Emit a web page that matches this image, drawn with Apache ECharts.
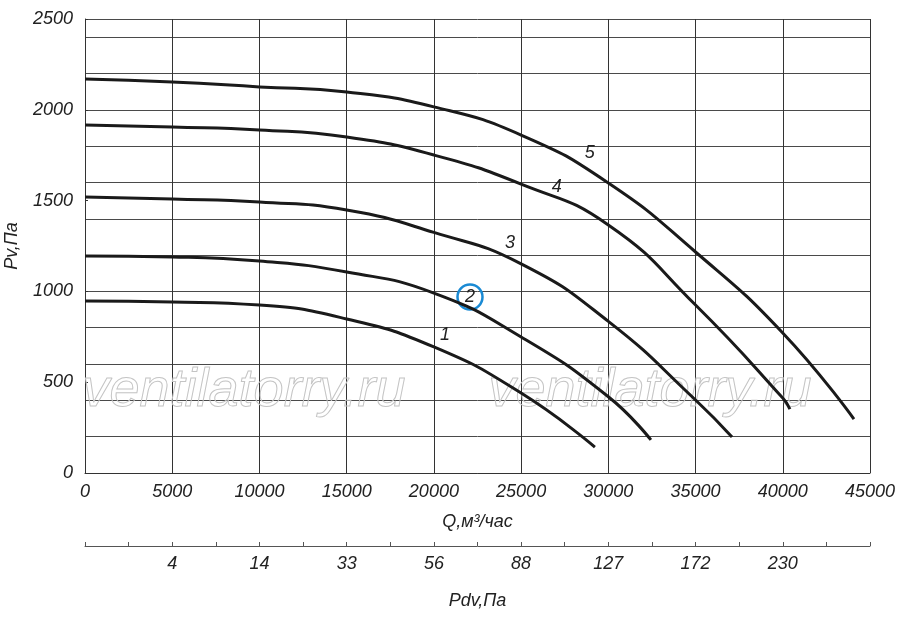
<!DOCTYPE html>
<html>
<head>
<meta charset="utf-8">
<script src="https://cdn.jsdelivr.net/npm/echarts@6/dist/echarts.min.js"></script>
<style>
html,body{margin:0;padding:0;background:#fff;}
#chart{width:900px;height:620px;}
</style>
</head>
<body>
<div id="chart"></div>
<script>
// Q, м3/час -> Pv, Па  (кривые 1..5)
var curve1 = [[0,947],[5000,942],[10000,925],[15000,848],[20000,694],[25000,440],[29230,143]];
var curve2 = [[0,1195],[5000,1190],[10000,1167],[15000,1107],[20000,991],[25000,749],[30000,420],[32440,182]];
var curve3 = [[0,1520],[5000,1509],[10000,1492],[15000,1448],[20000,1325],[25000,1152],[30000,835],[35000,402],[37090,198]];
var curve4 = [[0,1916],[5000,1905],[10000,1889],[15000,1850],[20000,1751],[25000,1591],[30000,1366],[35000,925],[40000,413],[40410,352]];
var curve5 = [[0,2170],[5000,2153],[10000,2126],[15000,2098],[20000,2016],[25000,1861],[30000,1597],[35000,1217],[40000,771],[44080,297]];
var curveNames = ['1','2','3','4','5'];
// где стоят номера кривых
var labelPos = [[20640,760],[22070,969],[24360,1267],[27050,1575],[28940,1762]];
// динамическое давление Pdv под шкалой Q
var pdvQ = [5000,10000,15000,20000,25000,30000,35000,40000];
var pdvLabels = ['4','14','33','56','88','127','172','230'];

var font = '"Liberation Sans", Arial, sans-serif';
var txtStyle = {color:'#222', fontSize:18, fontStyle:'italic', fontFamily:font};

var chart = echarts.init(document.getElementById('chart'));

function plain(v){ return String(v); }

function curveSeries(data, idx){
    var mp = {
        coord: labelPos[idx],
        symbol: 'circle',
        symbolSize: 20,
        itemStyle: {color:'rgba(255,255,255,0)'},
        label: {show:true, formatter:curveNames[idx], position:'inside', color:'#222', fontSize:18, fontStyle:'italic', fontFamily:font}
    };
    if(idx == 1){
        mp.symbolSize = 25;
        mp.itemStyle = {color:'rgba(255,255,255,0)', borderColor:'#1a8ad4', borderWidth:2.5};
    }
    return {
        type:'line',
        xAxisIndex:0,
        yAxisIndex:0,
        data:data,
        smooth:0.5,
        showSymbol:false,
        silent:true,
        z:5,
        lineStyle:{color:'#1a1a1a', width:3},
        markPoint:{silent:true, data:[mp]}
    };
}

var option = {
    animation:false,
    backgroundColor:'#fff',
    grid:[
        {left:85, right:30, top:19, bottom:147, containLabel:false, outerBoundsMode:'none'},
        {left:85, right:30, top:545, height:1, containLabel:false, outerBoundsMode:'none'}
    ],
    xAxis:[{
        type:'value', gridIndex:0, min:0, max:45000, interval:5000,
        name:'Q,м³/час', nameLocation:'middle', nameGap:40,
        nameTextStyle:txtStyle,
        axisLine:{show:true, lineStyle:{color:'#333', width:1}},
        axisTick:{show:false},
        axisLabel:Object.assign({margin:10, formatter:plain}, txtStyle),
        splitLine:{show:true, lineStyle:{color:'#333', width:1}}
    },{
        type:'value', gridIndex:1, min:0, max:45000, interval:2500,
        position:'bottom',
        name:'Pdv,Па', nameLocation:'middle', nameGap:46,
        nameTextStyle:txtStyle,
        axisLine:{show:true, lineStyle:{color:'#555', width:1}},
        axisTick:{show:true, inside:true, length:4, lineStyle:{color:'#555'}},
        axisLabel:Object.assign({margin:9, formatter:function(v){
            var i = pdvQ.indexOf(v);
            return i >= 0 ? pdvLabels[i] : '';
        }}, txtStyle),
        splitLine:{show:false}
    }],
    yAxis:[{
        type:'value', gridIndex:0, min:0, max:2500, interval:500,
        name:'Pv,Па', nameLocation:'middle', nameGap:64,
        nameTextStyle:txtStyle,
        axisLine:{show:true, lineStyle:{color:'#333', width:1}},
        axisTick:{show:true, inside:true, length:3, lineStyle:{color:'#333'}},
        axisLabel:Object.assign({margin:12, formatter:plain}, txtStyle),
        splitLine:{show:false}
    },{
        type:'value', gridIndex:0, min:0, max:2500, interval:200,
        position:'left',
        axisLine:{show:false}, axisTick:{show:false}, axisLabel:{show:false},
        splitLine:{show:true, lineStyle:{color:'#4a4a4a', width:1}}
    },{
        type:'value', gridIndex:1, min:0, max:1, show:false
    }],
    graphic:[{
        type:'text', left:82, top:363, z:1, silent:true,
        style:{text:'ventilatorry.ru', font:'italic 54px "Liberation Sans", Arial, sans-serif', fill:'rgba(255,255,255,0)', stroke:'#c4c4c4', lineWidth:1}
    },{
        type:'text', left:488, top:363, z:1, silent:true,
        style:{text:'ventilatorry.ru', font:'italic 54px "Liberation Sans", Arial, sans-serif', fill:'rgba(255,255,255,0)', stroke:'#c4c4c4', lineWidth:1}
    }],
    series:[
        curveSeries(curve1,0),
        curveSeries(curve2,1),
        curveSeries(curve3,2),
        curveSeries(curve4,3),
        curveSeries(curve5,4)
    ]
};
chart.setOption(option);
window.addEventListener('resize',function(){
    chart.resize();
});
</script>
</body>
</html>
